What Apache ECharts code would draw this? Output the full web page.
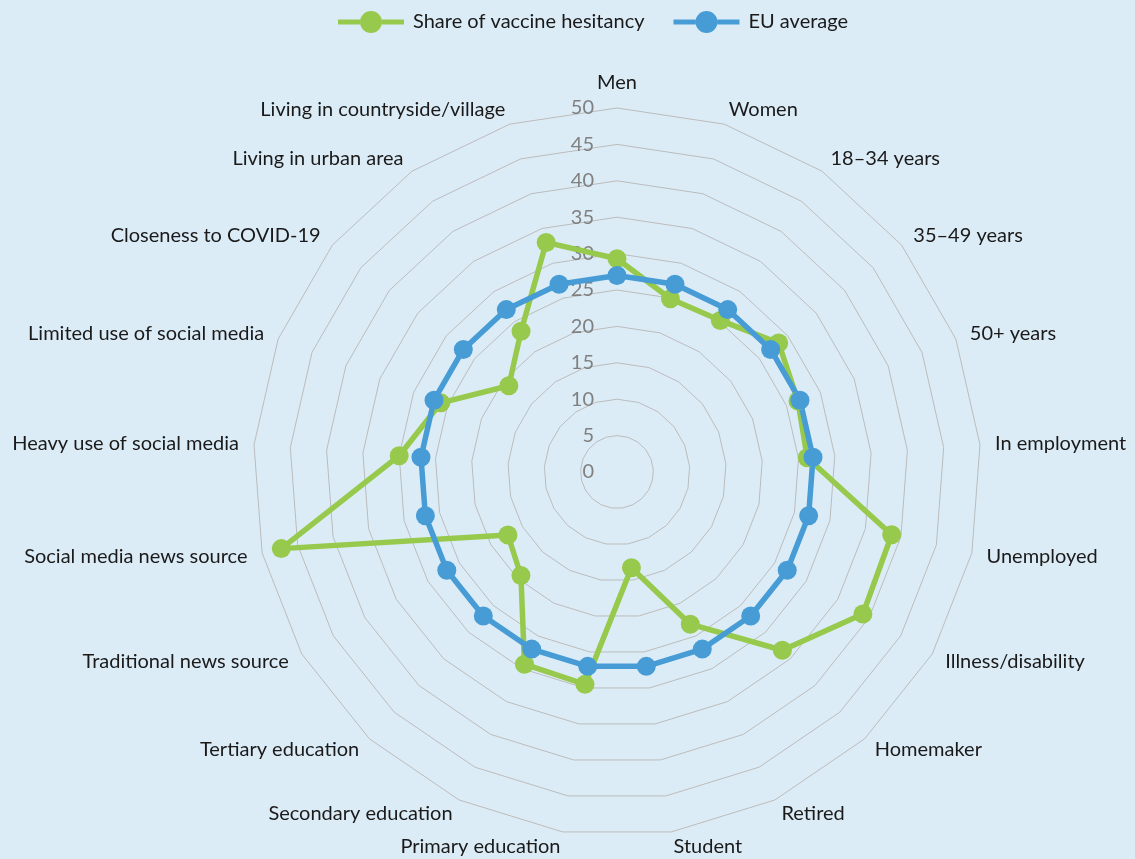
<!DOCTYPE html>
<html><head><meta charset="utf-8">
<script src="https://cdn.jsdelivr.net/npm/echarts@6/dist/echarts.min.js"></script>
<style>html,body{margin:0;padding:0;background:#dcecf6;} #chart{width:1135px;height:859px;}</style>
</head><body><div id="chart"></div>
<script>
const categories = ['Men', 'Women', '18–34 years', '35–49 years', '50+ years', 'In employment', 'Unemployed',
  'Illness/disability', 'Homemaker', 'Retired', 'Student', 'Primary education', 'Secondary education',
  'Tertiary education', 'Traditional news source', 'Social media news source', 'Heavy use of social media',
  'Limited use of social media', 'Closeness to COVID-19', 'Living in urban area', 'Living in countryside/village'];
const hesitancy = [29.3, 24.9, 25.2, 28.4, 26.7, 26.2, 38.7, 39.0, 33.4, 23.2, 13.3, 29.5, 29.3, 19.4, 17.3, 47.3, 30.0, 26.0, 19.0, 23.4, 33.0];
const euAverage = [27, 27, 27, 27, 27, 27, 27, 27, 27, 27, 27, 27, 27, 27, 27, 27, 27, 27, 27, 27, 27];
const axisTicks = [0, 5, 10, 15, 20, 25, 30, 35, 40, 45, 50];
const seriesNames = ['Share of vaccine hesitancy', 'EU average'];

const FONT = 'Lato, "Noto Sans", sans-serif';
const GREEN = '#97c94c';
const BLUE = '#479cd6';
const n = categories.length;
// ECharts radar runs counter-clockwise; reorder so categories read clockwise from the top
const order = categories.map((_, i) => (i === 0 ? 0 : n - i));
const reorder = arr => order.map(i => arr[i]);
const tickMin = axisTicks[0];
const tickMax = axisTicks[axisTicks.length - 1];

const indicator = order.map(i => {
  const ind = { name: categories[i], min: tickMin, max: tickMax };
  if (i === 0) ind.axisLabel = { show: true, color: '#808080', fontSize: 20, fontFamily: FONT, margin: 23 };
  return ind;
});

const iconPath = 'path://M0,8.5 L22,8.5 L22,13.5 L0,13.5 Z M44,8.5 L66,8.5 L66,13.5 L44,13.5 Z M22,11 A11,11 0 1,1 44,11 A11,11 0 1,1 22,11 Z';

const chart = echarts.init(document.getElementById('chart'), null, { renderer: 'canvas' });
chart.setOption({
  backgroundColor: '#dcecf6',
  animation: false,
  legend: {
    top: 6,
    left: 333,
    itemWidth: 66,
    itemHeight: 22,
    itemGap: 29,
    textStyle: { fontSize: 20, color: '#1a1a1a', fontFamily: FONT, padding: [0, 0, 0, 4] },
    data: seriesNames.map(nm => ({ name: nm, icon: iconPath }))
  },
  radar: {
    center: [617, 472],
    radius: 364,
    startAngle: 90,
    splitNumber: axisTicks.length - 1,
    shape: 'polygon',
    nameGap: 15,
    axisName: { color: '#1a1a1a', fontSize: 20, fontFamily: FONT },
    axisLine: { show: false },
    axisTick: { show: false },
    axisLabel: { show: false },
    splitLine: { lineStyle: { color: '#bcbcbc', width: 1 } },
    splitArea: { show: false },
    indicator: indicator
  },
  series: [
    {
      name: seriesNames[0],
      type: 'radar',
      symbol: 'circle',
      symbolSize: 19,
      itemStyle: { color: GREEN },
      lineStyle: { color: GREEN, width: 5.5 },
      data: [{ value: reorder(hesitancy), name: seriesNames[0] }]
    },
    {
      name: seriesNames[1],
      type: 'radar',
      symbol: 'circle',
      symbolSize: 19,
      itemStyle: { color: BLUE },
      lineStyle: { color: BLUE, width: 5.5 },
      data: [{ value: reorder(euAverage), name: seriesNames[1] }]
    }
  ]
});
</script></body></html>
